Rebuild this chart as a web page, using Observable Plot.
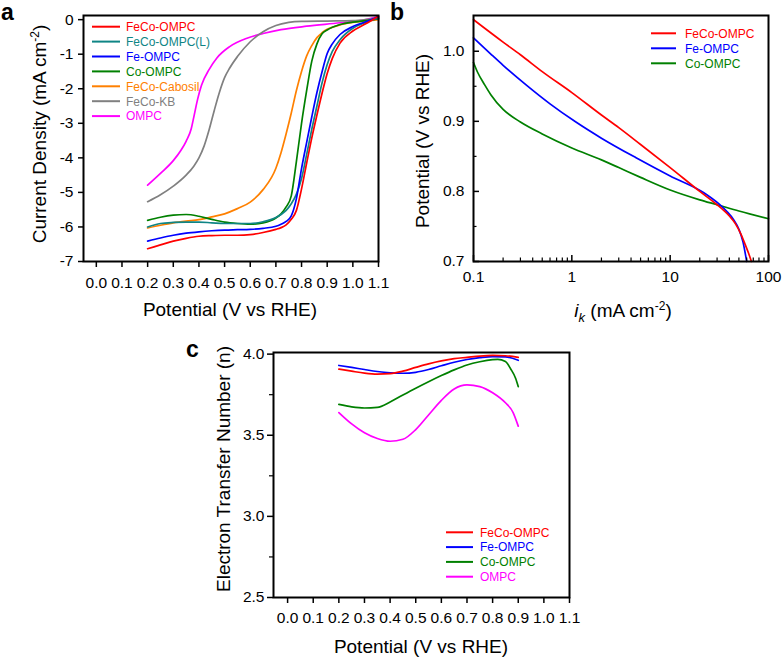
<!DOCTYPE html>
<html><head><meta charset="utf-8">
<script src="https://cdn.jsdelivr.net/npm/d3@7"></script>
<script src="https://cdn.jsdelivr.net/npm/@observablehq/plot@0.6"></script>
<style>
html,body{margin:0;padding:0;background:#fff;}
#wrap{position:relative;width:782px;height:659px;overflow:hidden;background:#fff;font-family:"Liberation Sans",Arial,Helvetica,sans-serif;}
#wrap > svg{position:absolute;}
</style></head><body><div id="wrap"></div>
<script>
const FONT = '"Liberation Sans", Arial, Helvetica, sans-serif';

// ---------- Panel a : LSV curves ----------
const aNames = ["FeCo-OMPC","FeCo-OMPC(L)","Fe-OMPC","Co-OMPC","FeCo-Cabosil","FeCo-KB","OMPC"];
const aColors = ["#ff0000","#0f8585","#0000ff","#008000","#ff8000","#808080","#ff00ff"];
const aV = [0.2,0.25,0.3,0.35,0.4,0.45,0.5,0.55,0.6,0.65,0.7,0.72,0.74,0.76,0.78,0.8,0.82,0.84,0.86,0.88,0.9,0.92,0.95,1.0,1.05,1.1];
const aFeCo = [-6.63,-6.52,-6.41,-6.33,-6.27,-6.25,-6.24,-6.24,-6.22,-6.16,-6.07,-6.02,-5.94,-5.78,-5.52,-4.9,-4.15,-3.42,-2.76,-2.13,-1.56,-1.12,-0.68,-0.33,-0.12,0.1];
const aFeCoL = [-6.0,-5.9,-5.87,-5.86,-5.86,-5.88,-5.9,-5.9,-5.9,-5.85,-5.73,-5.64,-5.52,-5.33,-5.05,-4.6,-3.9,-3.17,-2.5,-1.83,-1.3,-0.92,-0.58,-0.25,-0.08,0.05];
const aFe = [-6.41,-6.32,-6.24,-6.18,-6.14,-6.11,-6.09,-6.08,-6.07,-6.04,-5.98,-5.92,-5.84,-5.68,-5.18,-4.31,-3.55,-2.81,-2.11,-1.51,-0.98,-0.7,-0.43,-0.2,-0.06,0.08];
const aCo = [-5.81,-5.72,-5.66,-5.64,-5.69,-5.78,-5.86,-5.9,-5.92,-5.88,-5.74,-5.62,-5.42,-5.1,-4.1,-3.0,-2.05,-1.2,-0.7,-0.41,-0.3,-0.22,-0.14,-0.07,-0.03,0.03];
const aCabosil = [-6.03,-5.95,-5.88,-5.83,-5.79,-5.71,-5.62,-5.47,-5.28,-4.92,-4.3,-3.85,-3.3,-2.7,-2.05,-1.5,-1.05,-0.75,-0.52,-0.38,-0.28,-0.22,-0.15,-0.08,-0.04,0.0];
const aKBV = [0.2,0.25,0.3,0.35,0.38,0.4,0.42,0.44,0.46,0.48,0.5,0.52,0.55,0.6,0.65,0.7,0.75,0.8,0.9,1.0,1.05,1.1];
const aKB = [-5.27,-5.07,-4.82,-4.5,-4.24,-4.0,-3.66,-3.18,-2.62,-2.1,-1.68,-1.4,-1.07,-0.64,-0.35,-0.17,-0.08,-0.05,-0.04,-0.03,0.0,0.05];
const aOMPCV = [0.2,0.25,0.3,0.33,0.35,0.37,0.38,0.395,0.41,0.44,0.47,0.52,0.59,0.65,0.72,0.82,0.95,1.05,1.1];
const aOMPC = [-4.79,-4.45,-4.08,-3.78,-3.52,-3.16,-2.82,-2.3,-1.9,-1.44,-1.11,-0.78,-0.53,-0.4,-0.29,-0.19,-0.09,0.0,0.1];
const aXTicks = [0.0,0.1,0.2,0.3,0.4,0.5,0.6,0.7,0.8,0.9,1.0,1.1];
const aYTicks = [0,-1,-2,-3,-4,-5,-6,-7];

// ---------- Panel b : potential vs kinetic current (log ik) ----------
const bNames = ["FeCo-OMPC","Fe-OMPC","Co-OMPC"];
const bColors = ["#ff0000","#0000ff","#008000"];
const bFeCoI = [0.1,0.2,0.3,0.5,1,2,3,5,10,20,30,35,40,46,52,58,63,67];
const bFeCoE = [1.045,1.013,0.995,0.971,0.941,0.909,0.891,0.867,0.834,0.800,0.781,0.773,0.765,0.754,0.740,0.724,0.711,0.700];
const bFeI = [0.1,0.15,0.2,0.35,0.6,1.1,2,4.5,10,22,32,38,44,50,55,60];
const bFeE = [1.019,0.996,0.98,0.951,0.925,0.899,0.876,0.848,0.822,0.798,0.781,0.771,0.76,0.746,0.728,0.70];
const bCoI = [0.1,0.11,0.13,0.15,0.2,0.3,0.5,1,2,3,5,10,20,30,50,100];
const bCoE = [0.984,0.97,0.952,0.938,0.917,0.899,0.882,0.862,0.845,0.834,0.82,0.802,0.788,0.781,0.772,0.761];
const bXMajor = [0.1,1,10,100];
const bXMinor = [0.2,0.3,0.4,0.5,0.6,0.7,0.8,0.9,2,3,4,5,6,7,8,9,20,30,40,50,60,70,80,90];
const bYMajor = [0.7,0.8,0.9,1.0];
const bYMinor = [0.75,0.85,0.95];

// ---------- Panel c : electron transfer number ----------
const cNames = ["FeCo-OMPC","Fe-OMPC","Co-OMPC","OMPC"];
const cColors = ["#ff0000","#0000ff","#008000","#ff00ff"];
const cV = [0.2,0.25,0.3,0.35,0.4,0.45,0.5,0.55,0.6,0.65,0.7,0.75,0.8,0.85,0.9];
const cFeCo = [3.908,3.895,3.883,3.877,3.88,3.895,3.918,3.94,3.958,3.972,3.98,3.988,3.992,3.99,3.98];
const cFe = [3.93,3.918,3.905,3.893,3.885,3.882,3.888,3.905,3.928,3.95,3.967,3.978,3.985,3.983,3.962];
const cCoV = [0.2,0.25,0.3,0.35,0.4,0.45,0.5,0.55,0.6,0.65,0.7,0.75,0.8,0.82,0.85,0.87,0.89,0.9];
const cCo = [3.69,3.675,3.668,3.672,3.705,3.748,3.79,3.83,3.868,3.903,3.933,3.953,3.966,3.968,3.955,3.91,3.85,3.80];
const cOMPCV = [0.2,0.25,0.3,0.35,0.4,0.45,0.5,0.55,0.6,0.65,0.7,0.75,0.8,0.85,0.88,0.9];
const cOMPC = [3.64,3.57,3.515,3.48,3.463,3.475,3.535,3.625,3.715,3.785,3.81,3.80,3.762,3.70,3.64,3.556];
const cXTicks = aXTicks;
const cYMajor = [2.5,3.0,3.5,4.0];
const cYMinor = [2.75,3.25,3.75];

// ---------- build ----------
function rows(name, xs, ys){ return xs.map((x,i)=>({s:name, x:x, y:ys[i]})); }
const aData = [].concat(
  rows(aNames[6], aOMPCV, aOMPC), rows(aNames[5], aKBV, aKB), rows(aNames[4], aV, aCabosil),
  rows(aNames[3], aV, aCo), rows(aNames[1], aV, aFeCoL), rows(aNames[2], aV, aFe), rows(aNames[0], aV, aFeCo));
const bData = [].concat(rows(bNames[2], bCoI, bCoE), rows(bNames[1], bFeI, bFeE), rows(bNames[0], bFeCoI, bFeCoE));
const cData = [].concat(rows(cNames[3], cOMPCV, cOMPC), rows(cNames[2], cCoV, cCo), rows(cNames[1], cV, cFe), rows(cNames[0], cV, cFeCo));

const wrap = document.getElementById("wrap");
const style = {fontFamily: FONT, fontSize: "15px", color: "#000", background: "transparent", overflow: "visible"};
const fmt1 = d => d.toFixed(1);
const lineOpts = {x:"x", y:"y", z:"s", stroke:"s", strokeWidth:1.7, curve:"monotone-x"};

function place(svg, left, top){ svg.style.left = left + "px"; svg.style.top = top + "px"; wrap.appendChild(svg); }

const plotA = Plot.plot({
  width: 390, height: 330, marginLeft: 83, marginRight: 12, marginTop: 15, marginBottom: 69,
  style,
  x: {domain: [-0.05, 1.1]},
  y: {domain: [-7, 0.12]},
  color: {domain: aNames, range: aColors},
  marks: [
    Plot.line(aData, lineOpts),
    Plot.frame({stroke: "#000", strokeWidth: 2}),
    Plot.axisX({ticks: aXTicks, tickFormat: fmt1, tickSize: 6, tickPadding: 9, strokeWidth: 1.5, label: null, fontSize: 15.5}),
    Plot.axisY({ticks: aYTicks, tickFormat: d => String(d), tickSize: 5, tickPadding: 5, strokeWidth: 1.5, label: null, fontSize: 15.5})
  ]
});
place(plotA, 0, 0);

const plotB = Plot.plot({
  width: 392, height: 330, marginLeft: 83, marginRight: 14, marginTop: 15, marginBottom: 69,
  style,
  x: {type: "log", domain: [0.1, 100]},
  y: {domain: [0.7, 1.051]},
  color: {domain: bNames, range: bColors},
  marks: [
    Plot.line(bData, lineOpts),
    Plot.frame({stroke: "#000", strokeWidth: 2}),
    Plot.axisX({ticks: bXMajor, tickFormat: d => String(d), tickSize: -6, tickPadding: 15, strokeWidth: 1.5, label: null, fontSize: 15.5}),
    Plot.axisX({ticks: bXMinor, tickFormat: () => "", tickSize: -3.5, tickPadding: 0, strokeWidth: 1.2, label: null}),
    Plot.axisY({ticks: bYMajor, tickFormat: fmt1, tickSize: -6, tickPadding: 15, strokeWidth: 1.5, label: null, fontSize: 15.5}),
    Plot.axisY({ticks: bYMinor, tickFormat: () => "", tickSize: -3.5, tickPadding: 0, strokeWidth: 1.2, label: null})
  ]
});
place(plotB, 390, 0);

const plotC = Plot.plot({
  width: 400, height: 359, marginLeft: 83, marginRight: 21, marginTop: 52, marginBottom: 62,
  style,
  x: {domain: [-0.055, 1.1]},
  y: {domain: [2.5, 4.01]},
  color: {domain: cNames, range: cColors},
  marks: [
    Plot.line(cData, lineOpts),
    Plot.frame({stroke: "#000", strokeWidth: 2}),
    Plot.axisX({ticks: cXTicks, tickFormat: fmt1, tickSize: 6, tickPadding: 8, strokeWidth: 1.5, label: null, fontSize: 15.5}),
    Plot.axisY({ticks: cYMajor, tickFormat: fmt1, tickSize: 6, tickPadding: 3, strokeWidth: 1.5, label: null, fontSize: 15.5}),
    Plot.axisY({ticks: cYMinor, tickFormat: () => "", tickSize: 4, tickPadding: 0, strokeWidth: 1.2, label: null})
  ]
});
place(plotC, 190, 300);

// ---------- overlay text: panel letters, axis titles, legends ----------
function legend(names, colors, x1, x2, tx, y0, dy){
  return names.map((n,i)=>{
    const y = y0 + i*dy;
    return `<line x1="${x1}" x2="${x2}" y1="${y}" y2="${y}" stroke="${colors[i]}" stroke-width="2"/>` +
           `<text x="${tx}" y="${y+4.3}" fill="${colors[i]}" font-size="12">${n}</text>`;
  }).join("");
}
const sup = `<tspan font-size="12" dy="-7">-2</tspan><tspan dy="7">)</tspan>`;
const overlay = `
<svg width="782" height="659" style="left:0;top:0" font-family='${FONT}' fill="#000">
  <text x="1" y="20" font-size="23" font-weight="bold">a</text>
  <text x="390" y="20" font-size="23" font-weight="bold">b</text>
  <text x="186" y="357" font-size="23" font-weight="bold">c</text>
  <text x="230" y="316" font-size="19" text-anchor="middle">Potential (V vs RHE)</text>
  <text transform="translate(45.5,134) rotate(-90)" font-size="19" text-anchor="middle">Current Density (mA cm${sup}</text>
  <text x="623" y="317" font-size="19" text-anchor="middle"><tspan font-style="italic">i</tspan><tspan font-style="italic" font-size="13" dy="5">k</tspan><tspan dy="-5"> (mA cm</tspan>${sup}</text>
  <text transform="translate(428.5,141) rotate(-90)" font-size="19" text-anchor="middle">Potential (V vs RHE)</text>
  <text x="421" y="653" font-size="19" text-anchor="middle">Potential (V vs RHE)</text>
  <text transform="translate(230,469) rotate(-90)" font-size="19" text-anchor="middle">Electron Transfer Number (n)</text>
  ${legend(aNames, aColors, 92, 120, 126, 26.7, 14.9)}
  ${legend(bNames, bColors, 651, 676, 685, 33.3, 15)}
  ${legend(cNames, cColors, 446, 473, 480, 532.3, 14.8)}
</svg>`;
wrap.insertAdjacentHTML("beforeend", overlay);
</script></body></html>
